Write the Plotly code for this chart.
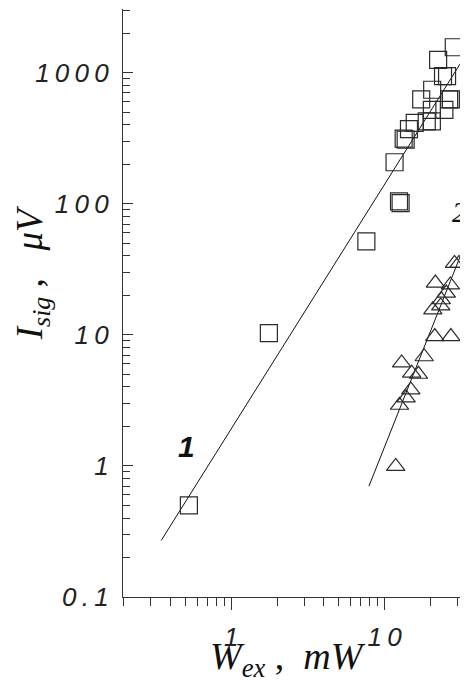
import numpy as np
import plotly.graph_objects as go

# ---- data ----
# curve 1 (open squares): W_ex in mW, I_sig in uV
w_sq = [28.2, 22.3, 24.0, 25.5, 20.4, 17.3, 27.0, 26.3, 20.3, 24.5, 18.8, 20.3,
        15.7, 14.4, 13.3, 13.7, 11.6, 12.4, 12.7, 7.6, 1.76, 0.53]
i_sq = [1560, 1250, 940, 940, 740, 625, 625, 625, 520, 520, 425, 425,
        413, 370, 313, 308, 207, 104, 101, 51.5, 10.3, 0.50]

# curve 2 (open triangles)
w_tr = [28.5, 30.5, 21.4, 26.8, 25.2, 23.4, 23.2, 20.6, 21.2, 27.0, 18.1, 12.9,
        15.0, 16.6, 14.8, 13.8, 12.5, 11.8]
i_tr = [35, 35, 24.8, 24, 20.8, 18.5, 16.6, 15.5, 9.7, 9.7, 6.8, 6.1,
        5.1, 5.0, 3.8, 3.3, 2.9, 0.99]

# fitted straight lines (end points)
fit1_w = [0.35, 34.5]
fit1_i = [0.27, 1420]
fit2_w = [7.9, 34.5]
fit2_i = [0.70, 54]

# axis ticks
y_major = [0.1, 1, 10, 100, 1000]
y_major_text = ["0\u2009.\u20091", "1", "1\u20090", "1\u20090\u20090", "1\u20090\u20090\u20090"]
y_minor = [m * d for d in [0.1, 1, 10, 100] for m in range(2, 10)] + [2000, 3000]
x_major = [1, 10]
x_major_text = ["1", "1\u20090"]
x_minor = [m * d for d in [0.1, 1] for m in range(2, 10)] + [20, 30]

axis_col = "#333333"
mark_col = "#2a2a2a"

fig = go.Figure()

fig.add_trace(go.Scatter(x=fit1_w, y=fit1_i, mode="lines",
                         line=dict(color="#111111", width=1), showlegend=False))
fig.add_trace(go.Scatter(x=fit2_w, y=fit2_i, mode="lines",
                         line=dict(color="#111111", width=1), showlegend=False))
fig.add_trace(go.Scatter(x=w_sq, y=i_sq, mode="markers",
                         marker=dict(symbol="square-open", size=17,
                                     color=mark_col, line=dict(width=1.2, color=mark_col)),
                         showlegend=False))
fig.add_trace(go.Scatter(x=w_tr, y=i_tr, mode="markers",
                         marker=dict(symbol="triangle-up-open", size=16,
                                     color=mark_col, line=dict(width=1.2, color=mark_col)),
                         showlegend=False))

tick_font = dict(family="Liberation Sans", size=26, color="#222222", style="italic")

fig.update_xaxes(
    type="log", range=[-0.705, 1.543],
    showgrid=False, zeroline=False,
    showline=True, linecolor=axis_col, linewidth=1.3,
    tickmode="array", tickvals=x_major, ticktext=x_major_text,
    ticks="outside", ticklen=12, tickwidth=1.2, tickcolor=axis_col,
    ticklabelstandoff=5,
    minor=dict(tickmode="array", tickvals=x_minor, ticks="outside",
               ticklen=8, tickwidth=1, tickcolor=axis_col),
    tickfont=tick_font,
)
fig.update_yaxes(
    type="log", range=[-1, 3.485],
    showgrid=False, zeroline=False,
    showline=True, linecolor=axis_col, linewidth=1.3,
    tickmode="array", tickvals=y_major, ticktext=y_major_text,
    ticks="inside", ticklen=10, tickwidth=1.2, tickcolor=axis_col,
    ticklabelstandoff=8,
    minor=dict(tickmode="array", tickvals=y_minor, ticks="inside",
               ticklen=7, tickwidth=1, tickcolor=axis_col),
    tickfont=tick_font,
)

title_font = dict(family="Liberation Serif", size=38, color="#111111")

# axis titles
fig.add_annotation(xref="paper", yref="paper", x=0.478, y=-0.105,
                   text="<i>W</i><sub><i>ex</i></sub> ,  <i>mW</i>",
                   showarrow=False, font=title_font, xanchor="center", yanchor="middle")
fig.add_annotation(xref="paper", yref="paper", x=-0.263, y=0.551, textangle=-90,
                   text="<i>I</i><sub><i>sig</i></sub> ,   <i>\u03bcV</i>",
                   showarrow=False, font=dict(family="Liberation Serif", size=37, color="#111111"),
                   xanchor="center", yanchor="middle")

# curve numbers
fig.add_annotation(x=np.log10(0.51), y=np.log10(1.40), text="<b><i>1</i></b>",
                   showarrow=False, font=dict(family="Liberation Sans", size=30, color="#111111"))
fig.add_annotation(x=np.log10(30.8), y=np.log10(87), text="<i>2</i>",
                   showarrow=False, font=dict(family="Liberation Serif", size=29, color="#111111"))

# the page body adds an 8px margin all round, so the figure is made smaller
# and placed so that the plot area lands where it is in the original
fig.update_layout(
    width=460, height=675,
    margin=dict(l=115, r=0, t=1, b=86),
    plot_bgcolor="white", paper_bgcolor="white",
    showlegend=False,
)

fig.write_html("out.html")
